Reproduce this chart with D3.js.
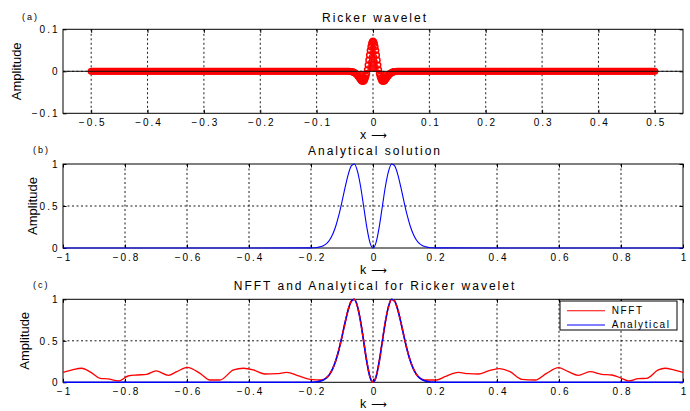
<!DOCTYPE html>
<html>
<head>
<meta charset="utf-8">
<script src="https://cdn.jsdelivr.net/npm/d3@7"></script>
<style>
    body { margin: 0; background: #fff; }
    text { font-family: "Liberation Sans", Arial, Helvetica, sans-serif; fill: #000; }
</style>
</head>
<body>
<svg id="fig" width="690" height="411"></svg>
<script>
// (a) Ricker wavelet samples (stem plot), centre part
const waveX = [-0.04, -0.03875, -0.0375, -0.03625, -0.035, -0.03375, -0.0325, -0.03125, -0.03, -0.02875, -0.0275, -0.02625, -0.025, -0.02375,
    -0.0225, -0.02125, -0.02, -0.01875, -0.0175, -0.01625, -0.015, -0.01375, -0.0125, -0.01125, -0.01, -0.00875, -0.0075, -0.00625, -0.005,
    -0.00375, -0.0025, -0.00125, 0, 0.00125, 0.0025, 0.00375, 0.005, 0.00625, 0.0075, 0.00875, 0.01, 0.01125, 0.0125, 0.01375, 0.015, 0.01625,
    0.0175, 0.01875, 0.02, 0.02125, 0.0225, 0.02375, 0.025, 0.02625, 0.0275, 0.02875, 0.03, 0.03125, 0.0325, 0.03375, 0.035, 0.03625, 0.0375,
    0.03875, 0.04];
const waveY = [-0.0005, -0.0007, -0.001, -0.0014, -0.0019, -0.0026, -0.0036, -0.0047, -0.0061, -0.0078, -0.0098, -0.0119, -0.0143, -0.0167,
    -0.0191, -0.0212, -0.0228, -0.0238, -0.0239, -0.0229, -0.0205, -0.0168, -0.0116, -0.0051, 0.0034, 0.0148, 0.0266, 0.0384, 0.0493,
    0.0587, 0.0659, 0.0704, 0.072, 0.0704, 0.0659, 0.0587, 0.0493, 0.0384, 0.0266, 0.0148, 0.0034, -0.0051, -0.0116, -0.0168, -0.0205, -0.0229,
    -0.0239, -0.0238, -0.0228, -0.0212, -0.0191, -0.0167, -0.0143, -0.0119, -0.0098, -0.0078, -0.0061, -0.0047, -0.0036, -0.0026, -0.0019, -0.0014, -0.001,
    -0.0007, -0.0005];
// the rest of the samples sit on zero between these limits
const flatRange = [-0.5, 0.5];
const flatStep = 0.0025;

// (b) analytical spectrum
const anaK = [-1, -0.2, -0.19, -0.18, -0.17, -0.16, -0.15, -0.14, -0.13, -0.12, -0.11, -0.1, -0.09, -0.08, -0.07, -0.06, -0.05, -0.04, -0.03, -0.02, -0.01,
    0, 0.01, 0.02, 0.03, 0.04, 0.05, 0.06, 0.07, 0.08, 0.09, 0.1, 0.11, 0.12, 0.13, 0.14, 0.15, 0.16, 0.17, 0.18, 0.19, 0.2, 1];
const anaAmp = [0, 0.001, 0.003, 0.006, 0.014, 0.028, 0.053, 0.096, 0.164, 0.262, 0.393, 0.551, 0.721, 0.874, 0.977, 1, 0.912, 0.732, 0.491, 0.248, 0.067,
    0, 0.067, 0.248, 0.491, 0.732, 0.912, 1, 0.977, 0.874, 0.721, 0.551, 0.393, 0.262, 0.164, 0.096, 0.053, 0.028, 0.014, 0.006, 0.003, 0.001, 0];

// (c) NFFT result
const nfftK = [-1, -0.97, -0.94, -0.91, -0.88, -0.855, -0.82, -0.79, -0.76, -0.73, -0.7, -0.66, -0.633, -0.6, -0.558, -0.526, -0.494, -0.45, -0.418, -0.386,
    -0.348, -0.31, -0.278, -0.24, -0.203, -0.165, -0.15, -0.14, -0.13, -0.12, -0.11, -0.1, -0.09, -0.08, -0.07, -0.06, -0.05, -0.04, -0.03, -0.02, -0.01,
    0, 0.01, 0.02, 0.03, 0.04, 0.05, 0.06, 0.07, 0.08, 0.09, 0.1, 0.11, 0.12, 0.13, 0.14, 0.15, 0.165, 0.178, 0.205, 0.232, 0.275, 0.307, 0.34,
    0.372, 0.406, 0.442, 0.48, 0.523, 0.56, 0.598, 0.63, 0.662, 0.7, 0.738, 0.77, 0.802, 0.824, 0.856, 0.883, 0.92, 0.942, 0.97, 1];
const nfftAmp = [0.12, 0.15, 0.169, 0.12, 0.048, 0.04, 0.016, 0.076, 0.088, 0.096, 0.137, 0.084, 0.128, 0.18, 0.108, 0.028, 0.028, 0.149, 0.169, 0.149,
    0.1, 0.104, 0.12, 0.076, 0.036, 0.028, 0.055, 0.096, 0.164, 0.262, 0.393, 0.551, 0.721, 0.874, 0.977, 1, 0.912, 0.732, 0.491, 0.248, 0.067,
    0, 0.067, 0.248, 0.491, 0.732, 0.912, 1, 0.977, 0.874, 0.721, 0.551, 0.393, 0.262, 0.164, 0.096, 0.055, 0.03, 0.028, 0.028, 0.068, 0.12, 0.104, 0.1,
    0.137, 0.165, 0.128, 0.036, 0.028, 0.108, 0.177, 0.128, 0.084, 0.128, 0.096, 0.088, 0.048, 0.016, 0.044, 0.048, 0.149, 0.169, 0.15, 0.12];

const xTicksA = [-0.5, -0.4, -0.3, -0.2, -0.1, 0, 0.1, 0.2, 0.3, 0.4, 0.5];
const xTicksK = [-1, -0.8, -0.6, -0.4, -0.2, 0, 0.2, 0.4, 0.6, 0.8, 1];
const yTicksA = [-0.1, 0, 0.1];
const yTicksB = [0, 0.5, 1];
const legendNames = ["NFFT", "Analytical"];

const svg = d3.select("#fig");
const left = 63, right = 683;
const tickLs = 2;

const fmt = d => {
    const s = String(+d.toFixed(2));
    return s.replace("-", "\u2212");
};

function panel(o) {
    const x = d3.scaleLinear().domain(o.xDomain).range([left, right]);
    const y = d3.scaleLinear().domain(o.yDomain).range([o.bottom, o.top]);
    const g = svg.append("g");

    // grid (dotted)
    const grid = g.append("g")
        .attr("stroke", "#000")
        .attr("stroke-width", 0.9)
        .attr("stroke-dasharray", "2,2.5");
    grid.selectAll("line.v")
        .data(o.xTicks.filter(t => t > o.xDomain[0] && t < o.xDomain[1]))
        .enter().append("line")
        .attr("x1", d => x(d)).attr("x2", d => x(d))
        .attr("y1", o.top).attr("y2", o.bottom);
    grid.selectAll("line.h")
        .data(o.yTicks.filter(t => t > o.yDomain[0] && t < o.yDomain[1]))
        .enter().append("line")
        .attr("x1", left).attr("x2", right)
        .attr("y1", d => y(d)).attr("y2", d => y(d));

    // box
    g.append("rect")
        .attr("x", left).attr("y", o.top)
        .attr("width", right - left).attr("height", o.bottom - o.top)
        .attr("fill", "none").attr("stroke", "#000");

    // axes with inward ticks
    const ax = (axis, tx, ty, labels) => {
        const a = g.append("g")
            .attr("transform", `translate(${tx},${ty})`)
            .call(axis);
        a.select(".domain").remove();
        a.selectAll("line").attr("stroke", "#000");
        if (!labels) a.selectAll("text").remove();
        return a;
    };
    const xb = ax(d3.axisBottom(x).tickValues(o.xTicks).tickSizeInner(-3.5).tickSizeOuter(0).tickPadding(5.5).tickFormat(fmt), 0, o.bottom, true);
    xb.selectAll("text")
        .attr("font-size", 10).attr("font-family", null)
        .style("letter-spacing", tickLs + "px")
        .attr("dx", tickLs / 2);
    ax(d3.axisTop(x).tickValues(o.xTicks).tickSizeInner(-3.5).tickSizeOuter(0), 0, o.top, false);
    const yl = ax(d3.axisLeft(y).tickValues(o.yTicks).tickSizeInner(-3.5).tickSizeOuter(0).tickPadding(3.5).tickFormat(fmt), left, 0, true);
    yl.selectAll("text")
        .attr("font-size", 10).attr("font-family", null)
        .style("letter-spacing", tickLs + "px");
    ax(d3.axisRight(y).tickValues(o.yTicks).tickSizeInner(-3.5).tickSizeOuter(0), right, 0, false);
    g.selectAll(".tick text").attr("fill", "#000");

    // texts
    g.append("text")
        .attr("x", 375).attr("y", o.titleY)
        .attr("text-anchor", "middle")
        .attr("font-size", 12)
        .style("letter-spacing", "2px")
        .text(o.title);
    g.append("text")
        .attr("x", o.tagX).attr("y", o.titleY - 1.8)
        .attr("font-size", 9)
        .style("letter-spacing", "2px")
        .text(o.tag);
    g.append("text")
        .attr("transform", `translate(${o.ylabX},${(o.top + o.bottom) / 2}) rotate(-90)`)
        .attr("text-anchor", "middle")
        .attr("font-size", 13)
        .text("Amplitude");
    const xl = g.append("text")
        .attr("x", 360).attr("y", o.bottom + 25.5)
        .attr("font-size", 12.5);
    xl.append("tspan").text(o.xlab);
    xl.append("tspan")
        .attr("dx", 5)
        .attr("font-family", "DejaVu Sans")
        .attr("font-size", 11)
        .text("\u27F6");

    return { g, x, y };
}

// (a)
const pa = panel({
    top: 29.3, bottom: 113.3, xDomain: [-0.55, 0.55], yDomain: [-0.1, 0.1],
    xTicks: xTicksA, yTicks: yTicksA, title: "Ricker wavelet", titleY: 21.5,
    tag: "(a)", tagX: 22, ylabX: 20.6, xlab: "x"
});
const flatX = d3.range(flatRange[0], flatRange[1] + flatStep / 2, flatStep)
    .filter(v => Math.abs(v) > d3.max(waveX) + flatStep / 2);
const stems = flatX.map(v => ({ x: v, y: 0 }))
    .concat(waveX.map((v, i) => ({ x: v, y: waveY[i] })));

pa.g.append("g").selectAll("line")
    .data(stems.filter(d => d.y !== 0))
    .enter().append("line")
    .attr("x1", d => pa.x(d.x)).attr("x2", d => pa.x(d.x))
    .attr("y1", pa.y(0)).attr("y2", d => pa.y(d.y))
    .attr("stroke", "#f00").attr("stroke-width", 1);
pa.g.append("g").selectAll("circle")
    .data(stems)
    .enter().append("circle")
    .attr("cx", d => pa.x(d.x))
    .attr("cy", d => pa.y(d.y))
    .attr("r", 2.8)
    .attr("fill", "none")
    .attr("stroke", "#f00")
    .attr("stroke-width", 1.5);
pa.g.append("line")
    .attr("x1", left).attr("x2", right)
    .attr("y1", pa.y(0)).attr("y2", pa.y(0))
    .attr("stroke", "#111").attr("stroke-width", 1);

// (b)
const pb = panel({
    top: 164, bottom: 248, xDomain: [-1, 1], yDomain: [0, 1],
    xTicks: xTicksK, yTicks: yTicksB, title: "Analytical solution", titleY: 155,
    tag: "(b)", tagX: 33, ylabX: 37.3, xlab: "k"
});
const lineB = d3.line()
    .x((d, i) => pb.x(anaK[i]))
    .y(d => pb.y(d))
    .curve(d3.curveMonotoneX);
pb.g.append("path")
    .attr("d", lineB(anaAmp))
    .attr("fill", "none").attr("stroke", "#00f").attr("stroke-width", 1.1);

// (c)
const pc = panel({
    top: 299.3, bottom: 382.3, xDomain: [-1, 1], yDomain: [0, 1],
    xTicks: xTicksK, yTicks: yTicksB, title: "NFFT and Analytical for Ricker wavelet", titleY: 290,
    tag: "(c)", tagX: 33, ylabX: 29, xlab: "k"
});
const lineN = d3.line()
    .x(d => pc.x(d.k))
    .y(d => pc.y(d.a))
    .curve(d3.curveMonotoneX);
const nfft = nfftK.map((k, i) => ({ k: k, a: nfftAmp[i] }));
const ana = anaK.map((k, i) => ({ k: k, a: anaAmp[i] }));

pc.g.append("path")
    .attr("d", lineN(nfft))
    .attr("fill", "none").attr("stroke", "#f00").attr("stroke-width", 1.3);
pc.g.append("path")
    .attr("d", lineN(ana))
    .attr("fill", "none").attr("stroke", "#00f").attr("stroke-width", 1.6);
// red over blue where both curves meet
pc.g.append("path")
    .attr("d", lineN(nfft.filter(d => Math.abs(d.k) <= 0.15)))
    .attr("fill", "none").attr("stroke", "#f00").attr("stroke-width", 1.6)
    .attr("stroke-dasharray", "3,3");

// legend
const leg = pc.g.append("g");
leg.append("rect")
    .attr("x", 560).attr("y", 301)
    .attr("width", 117).attr("height", 29)
    .attr("fill", "#fff").attr("stroke", "#000");
const legColors = ["#f00", "#00f"];
legendNames.forEach((name, i) => {
    const ly = 310.7 + i * 14.3;
    leg.append("line")
        .attr("x1", 567).attr("x2", 605)
        .attr("y1", ly).attr("y2", ly)
        .attr("stroke", legColors[i]).attr("stroke-width", 1.1);
    leg.append("text")
        .attr("x", 611.7).attr("y", ly + 3.2)
        .attr("font-size", 10)
        .style("letter-spacing", "1.6px")
        .text(name);
});
</script>
</body>
</html>
